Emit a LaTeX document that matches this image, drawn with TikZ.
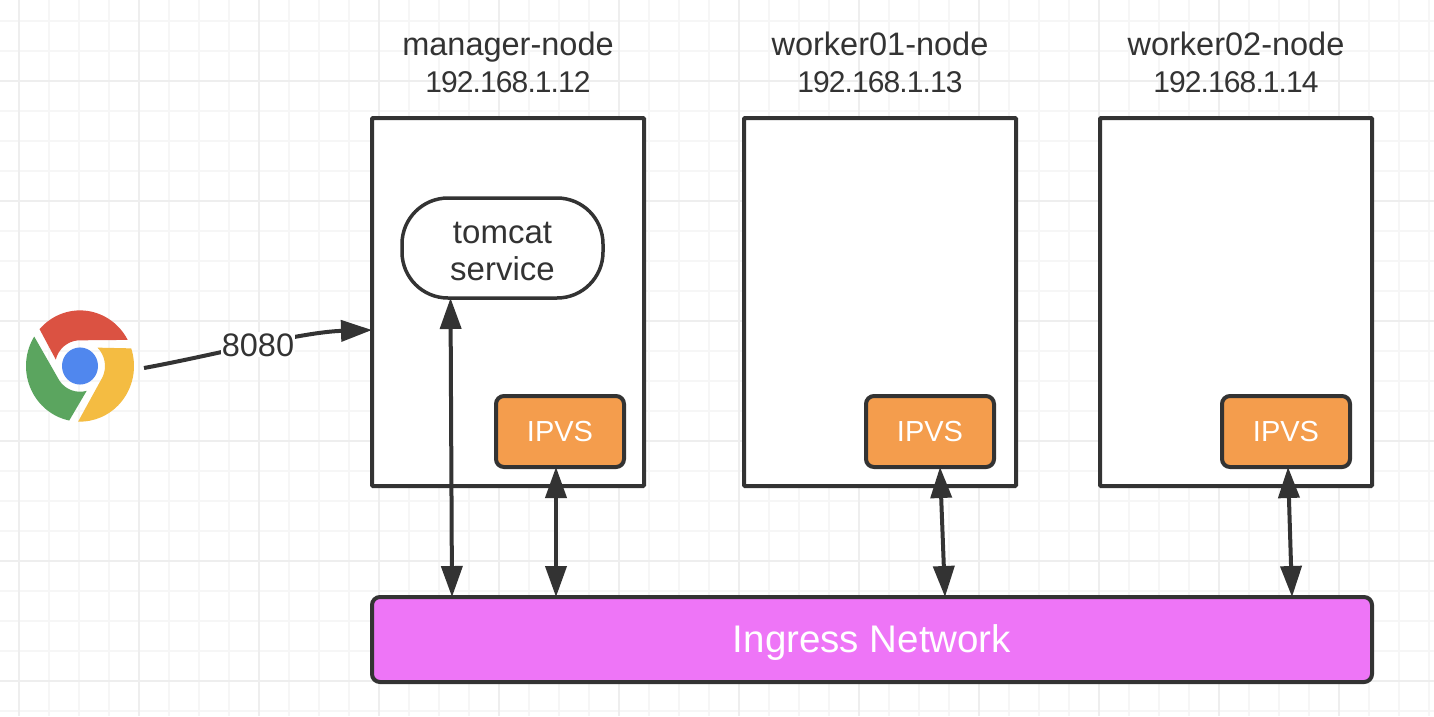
\documentclass[tikz,border=0pt]{standalone}
\usepackage{fontspec}
\setmainfont{Liberation Sans}
\usetikzlibrary{positioning,arrows.meta}
\definecolor{ink}{HTML}{333333}
\definecolor{gridminor}{HTML}{F6F6F6}
\definecolor{gridmajor}{HTML}{EEEEEE}
\definecolor{ipvsorange}{HTML}{F49D4D}
\definecolor{ingresspink}{HTML}{EE75F7}
\definecolor{chromered}{HTML}{DB5242}
\definecolor{chromeyellow}{HTML}{F4BC42}
\definecolor{chromegreen}{HTML}{5BA55F}
\definecolor{chromeblue}{HTML}{5087EE}
\newcommand{\ipaddr}{\fontsize{30pt}{37pt}\selectfont\addfontfeatures{LetterSpace=-3}}
\newcommand{\nudge}[1]{\raisebox{-3pt}[\height][\depth]{#1}}
\tikzset{
  hostbox/.style={draw=ink, line width=4pt, rounded corners=1pt, fill=white, outer sep=0pt,
    minimum width=272pt, minimum height=368pt},
  svcbox/.style={draw=ink, line width=3.5pt, rounded corners=46pt, fill=white, outer sep=0pt,
    minimum width=201pt, minimum height=100pt, align=center, text=ink,
    font=\fontsize{33pt}{37pt}\selectfont},
  ipvsbox/.style={draw=ink, line width=4pt, rounded corners=8pt, fill=ipvsorange, outer sep=0pt,
    minimum width=128pt, minimum height=71pt, text=white, font=\fontsize{29pt}{34pt}\selectfont},
  netbox/.style={draw=ink, line width=4pt, rounded corners=8pt, fill=ingresspink, outer sep=0pt,
    minimum width=1000pt, minimum height=85pt, text=white, font=\fontsize{38.5pt}{40pt}\selectfont},
  lab/.style={font=\fontsize{32.5pt}{37pt}\selectfont, text=ink, align=center},
  arr/.style={-{Triangle[length=31pt,width=21pt]}, line width=4pt, color=ink},
  dbl/.style={{Triangle[length=31pt,width=21pt]}-{Triangle[length=31pt,width=21pt]},
    line width=4pt, color=ink},
}
\begin{document}
\begin{tikzpicture}[x=1pt, y=-1pt]
  \useasboundingbox (0,0) rectangle (1434,716);
  \fill[white] (0,0) rectangle (1434,716);
  % grid paper
  \foreach \x in {19,49,...,1434} \draw[gridminor, line width=2pt] (\x,0) -- (\x,716);
  \foreach \y in {21,51,...,716} \draw[gridminor, line width=2pt] (0,\y) -- (1434,\y);
  \foreach \x in {19,139,...,1434} \draw[gridmajor, line width=2pt] (\x,0) -- (\x,716);
  \foreach \y in {81,201,...,716} \draw[gridmajor, line width=2pt] (0,\y) -- (1434,\y);

  \node[hostbox] (manager) at (508,302) {};
  \node[hostbox, right=100pt of manager] (worker1) {};
  \node[hostbox, right=84pt of worker1] (worker2) {};
  \node[lab, above=22pt of manager] (managerlab) {manager-node\\{\ipaddr 192.168.1.12}};
  \node[lab, above=22pt of worker1] (worker1lab) {worker01-node\\{\ipaddr 192.168.1.13}};
  \node[lab, above=22pt of worker2] (worker2lab) {worker02-node\\{\ipaddr 192.168.1.14}};
  \node[svcbox, below right=80pt and 30pt of manager.north west] (tomcat) {\nudge{tomcat}\\\nudge{service}};
  \node[ipvsbox, above left=19pt and 20pt of manager.south east] (ipvs0) {IPVS};
  \node[ipvsbox, above left=19pt and 22pt of worker1.south east] (ipvs1) {IPVS};
  \node[ipvsbox, above left=19pt and 22pt of worker2.south east] (ipvs2) {IPVS};
  \node[netbox, below right=111pt and 0pt of manager.south west] (ingress) {\nudge{Ingress Network}};

  \node[minimum size=108pt, inner sep=0pt, outer sep=0pt] (chrome) at (80,366) {};
  \begin{scope}[shift={(chrome.center)}, x=1pt, y=1pt, yscale=1.03]
    \foreach \col/\rot in {chromered/0, chromeyellow/-120, chromegreen/-240}
      \fill[\col, rotate=\rot] (138.5:54pt) arc[start angle=138.5, end angle=28, radius=54pt]
        -- (94.5:25pt) arc[start angle=94.5, end angle=165.5, radius=25pt] -- cycle;
    \fill[chromeblue] (0,0) circle[radius=18pt];
  \end{scope}

  \draw[arr] ([shift={(10pt,-2pt)}]chrome.east) .. controls (215,355) and (301,332)
    .. ([yshift=-28pt]manager.west) node[pos=.5, fill=white, inner sep=1pt, lab] (port) {8080};
  \draw[dbl] ([xshift=-52pt]tomcat.south) -- ([xshift=-420pt]ingress.north);
  \draw[dbl] ([xshift=-4pt]ipvs0.south) -- ([xshift=-316pt]ingress.north);
  \draw[dbl] ([xshift=10pt]ipvs1.south) -- ([xshift=73pt]ingress.north);
  \draw[dbl] ([xshift=2pt]ipvs2.south) -- ([xshift=420pt]ingress.north);
\end{tikzpicture}
\end{document}
